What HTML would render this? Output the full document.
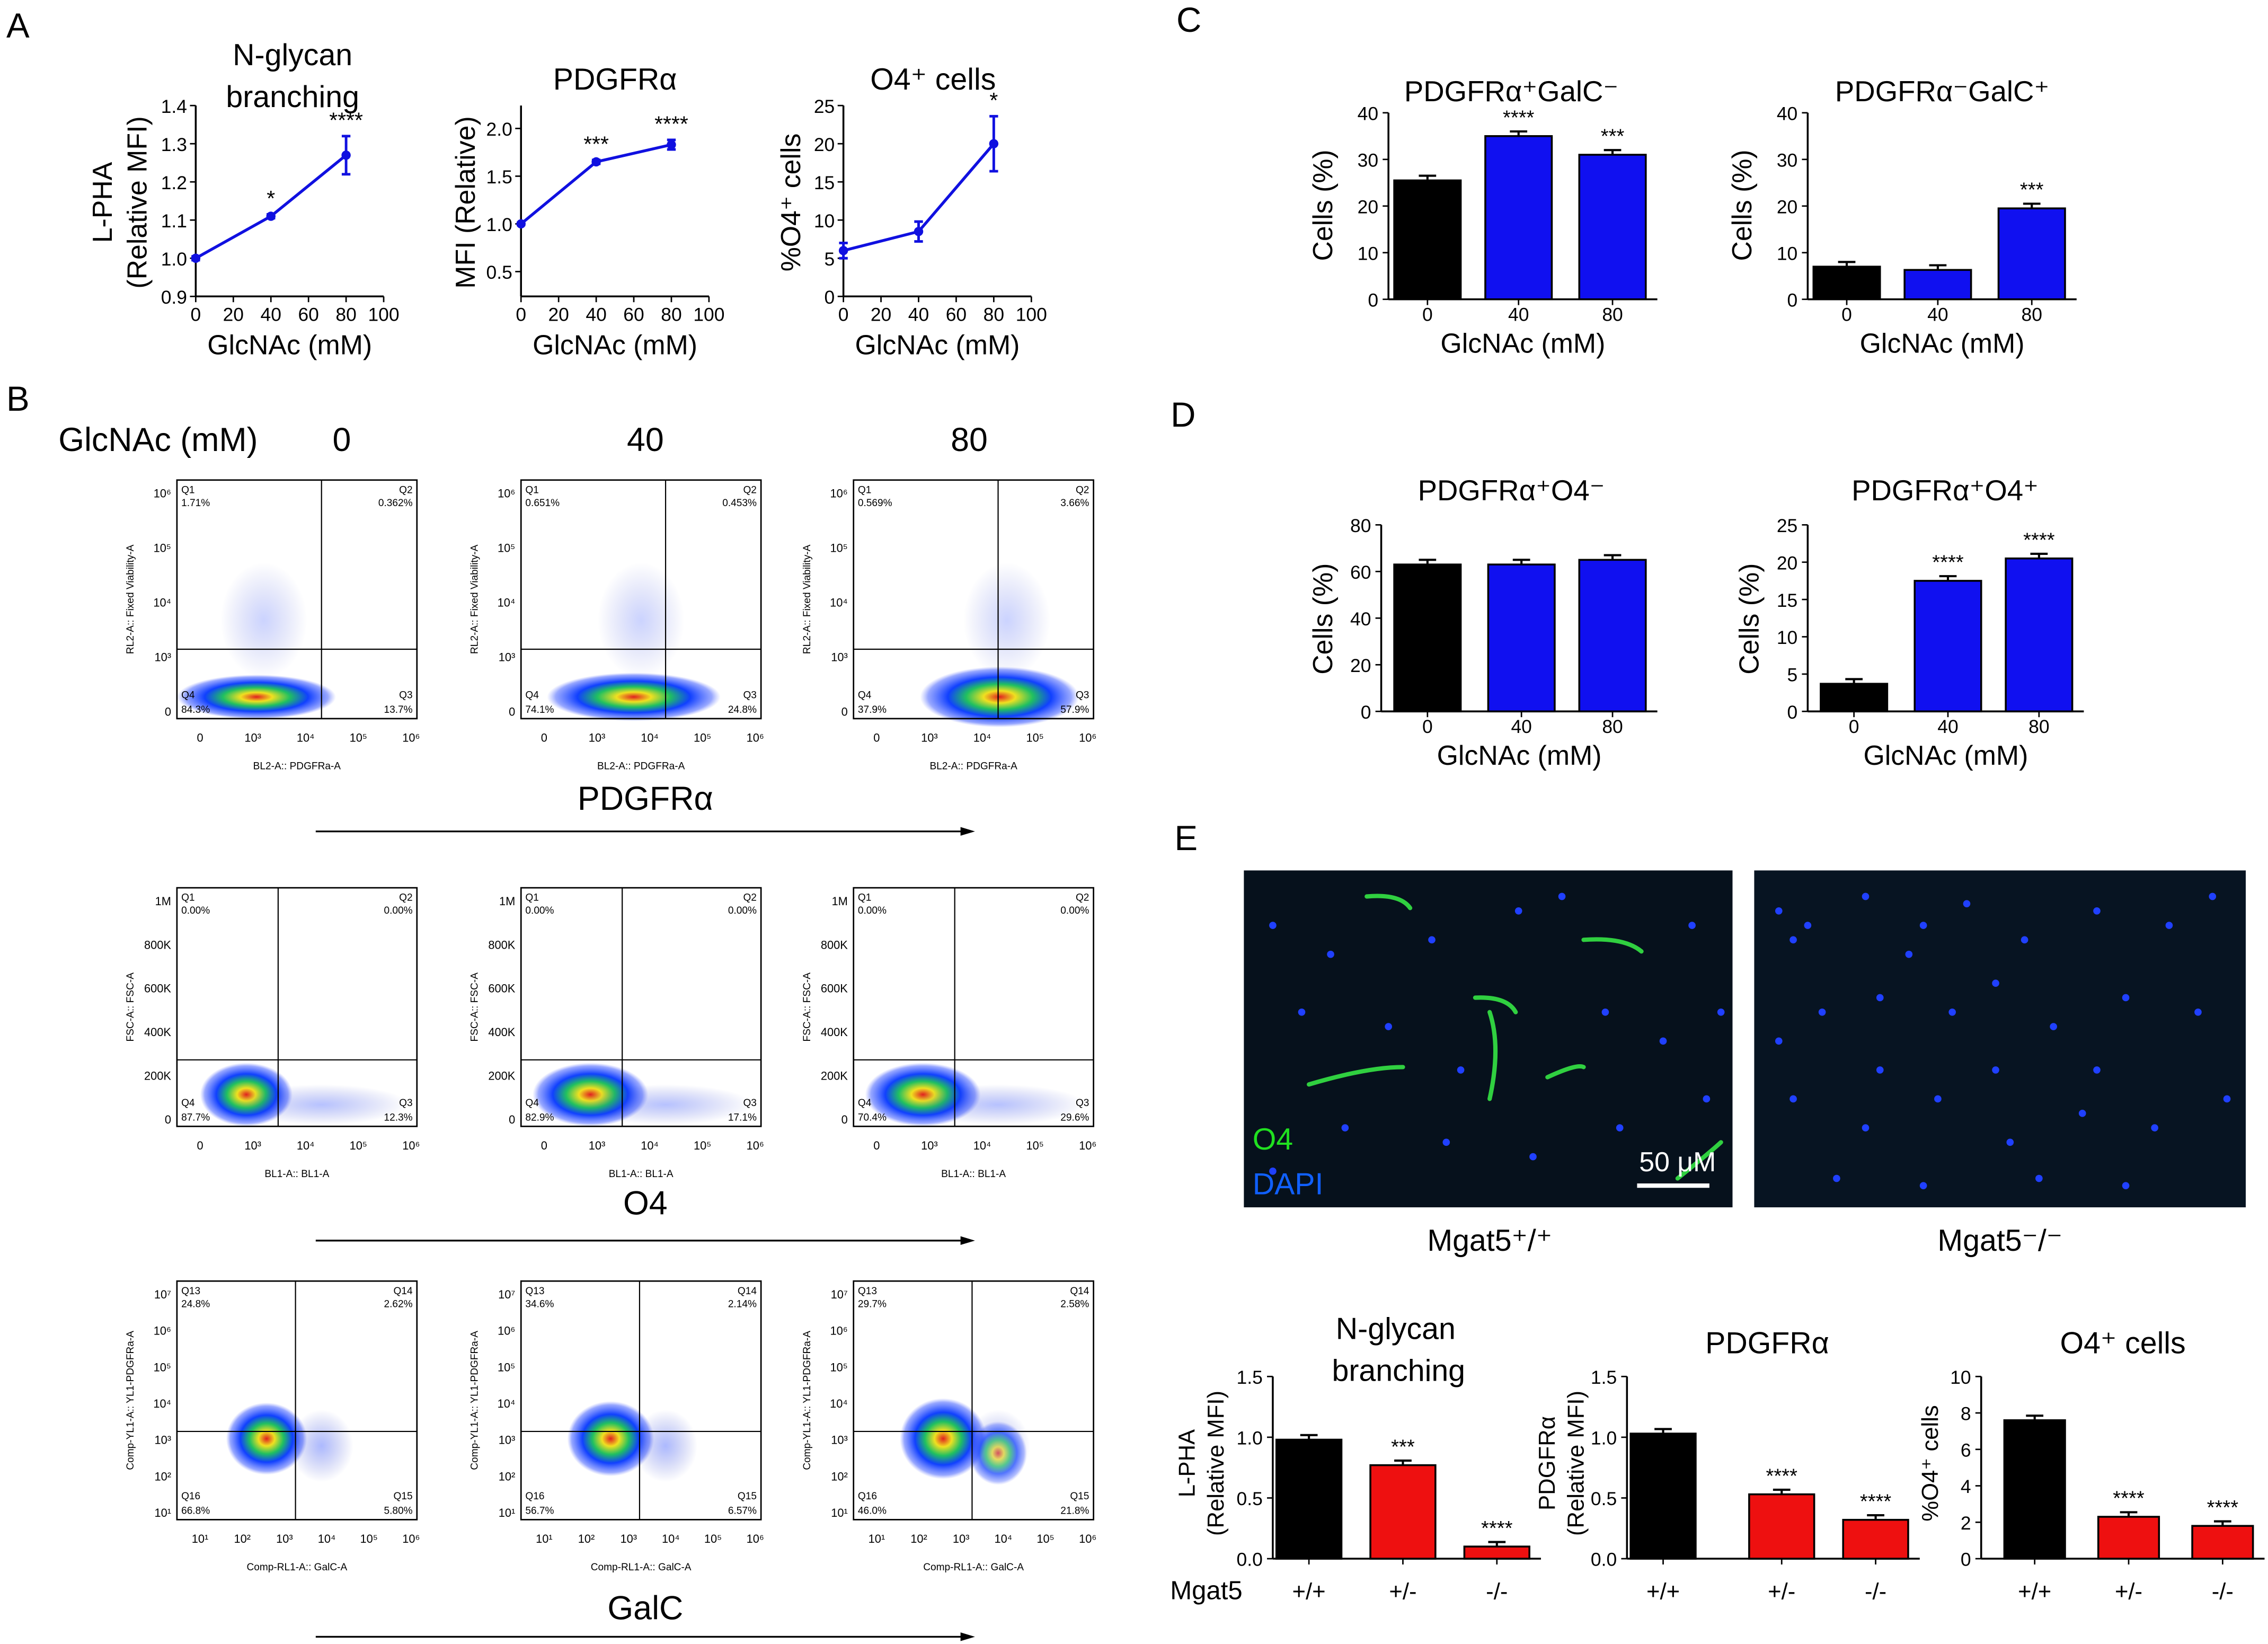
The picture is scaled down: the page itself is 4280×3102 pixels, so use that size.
<!DOCTYPE html>
<html><head><meta charset="utf-8"><style>
html,body{margin:0;padding:0;background:#fff;}
svg{display:block;font-family:"Liberation Sans",Arial,sans-serif;}
</style></head><body>
<svg id="fig" width="4280" height="3102" viewBox="0 0 1568 1137" xmlns="http://www.w3.org/2000/svg">
<defs>
<radialGradient id="blob" cx="50%" cy="50%" r="50%">
<stop offset="0" stop-color="#e02020"/><stop offset="0.2" stop-color="#f0e020"/><stop offset="0.42" stop-color="#20c060"/><stop offset="0.65" stop-color="#1040ff"/><stop offset="0.9" stop-color="#3050ff" stop-opacity="0.5"/><stop offset="1" stop-color="#6070ff" stop-opacity="0"/>
</radialGradient>
<radialGradient id="glow" cx="50%" cy="50%" r="50%"><stop offset="0" stop-color="#3050ff"/><stop offset="1" stop-color="#2030c0" stop-opacity="0"/></radialGradient>
</defs>
<g id="root"></g>
</svg>
<script>
// ---- Panel A data ----
const aX = [0, 40, 80];
const aBranch = [1.0, 1.11, 1.27];
const aBranchErr = [0.005, 0.005, 0.05];
const aPdgfr = [1.0, 1.65, 1.83];
const aPdgfrErr = [0.01, 0.02, 0.05];
const aO4 = [6, 8.5, 20];
const aO4Err = [1, 1.3, 3.6];
const aStars = ["", "*", "****"];
const aStars2 = ["", "***", "****"];
const aStars3 = ["", "", "*"];
// ---- Panel C/D data ----
const cdCats = ["0", "40", "80"];
const cPdgfrPosGalcNeg = [25.5, 35, 31];
const cPdgfrNegGalcPos = [7, 6.3, 19.5];
const dPdgfrPosO4Neg = [63, 63, 65];
const dPdgfrPosO4Pos = [3.7, 17.5, 20.5];
const cStars1 = ["", "****", "***"];
const cStars2 = ["", "", "***"];
const dStars1 = ["", "", ""];
const dStars2 = ["", "****", "****"];
// ---- Panel E data ----
const eCats = ["+/+", "+/-", "-/-"];
const eBranch = [0.98, 0.77, 0.1];
const ePdgfr = [1.03, 0.53, 0.32];
const eO4 = [7.6, 2.3, 1.8];
const eStarsA = ["", "***", "****"];
const eStarsB = ["", "****", "****"];

const NS="http://www.w3.org/2000/svg";
const root=document.getElementById('root');
function el(tag,attrs,parent,text){const e=document.createElementNS(NS,tag);for(const k in attrs)e.setAttribute(k,attrs[k]);if(text!==undefined)e.textContent=text;(parent||root).appendChild(e);return e;}
function txt(x,y,s,size,parent,anchor,rot){const a={x:x,y:y,'font-size':size,'text-anchor':anchor||'middle',fill:'#000'};if(rot)a.transform='rotate(-90 '+x+' '+y+')';return el('text',a,parent,s);}

function lineChart(name,x0,y0,y1,ymin,ymax,ticks,tickFmt,vals,errs,stars,ylab){
  const g=el('g',{});
  
  
  const x1=x0+130;
  const sx=v=>x0+(v/100)*(x1-x0);
  const sy=v=>y0-(v-ymin)/(ymax-ymin)*(y0-y1);
  el('line',{x1:x0,y1:y0,x2:x0,y2:y1,stroke:'#000','stroke-width':1.3},g);
  el('line',{x1:x0,y1:y0,x2:x1,y2:y0,stroke:'#000','stroke-width':1.3},g);
  ticks.forEach(t=>{el('line',{x1:x0-4,y1:sy(t),x2:x0,y2:sy(t),stroke:'#000'},g);txt(x0-6,sy(t)+5,tickFmt(t),13,g,'end');});
  [0,20,40,60,80,100].forEach(t=>{el('line',{x1:sx(t),y1:y0,x2:sx(t),y2:y0+4,stroke:'#000'},g);txt(sx(t),y0+17,String(t),13,g);});
  txt((x0+x1)/2,y0+40,'GlcNAc (mM)',19,g);
  let d='';
  aX.forEach((x,i)=>{d+=(i?'L':'M')+sx(x)+' '+sy(vals[i]);});
  const p=el('path',{d:d,fill:'none',stroke:'#1010e0','stroke-width':2},g);
  
  
  aX.forEach((x,i)=>{
    const cx=sx(x),cy=sy(vals[i]),e=errs[i];
    el('line',{x1:cx,y1:sy(vals[i]-e),x2:cx,y2:sy(vals[i]+e),stroke:'#1010e0','stroke-width':1.8},g);
    el('line',{x1:cx-3,y1:sy(vals[i]-e),x2:cx+3,y2:sy(vals[i]-e),stroke:'#1010e0','stroke-width':1.8},g);
    el('line',{x1:cx-3,y1:sy(vals[i]+e),x2:cx+3,y2:sy(vals[i]+e),stroke:'#1010e0','stroke-width':1.8},g);
    const c=el('circle',{cx:cx,cy:cy,r:3.2,fill:'#1010e0'},g);
    
    
    if(stars[i])txt(cx,sy(vals[i]+e)-6,stars[i],15,g);
  });
  return g;
}

function barChart(name,x0,y0,y1,ymax,ticks,cats,vals,colors,stars,xcenters,bw,xlabel){
  const g=el('g',{});
  
  
  const sy=v=>y0-v/ymax*(y0-y1);
  const xEnd=xcenters[xcenters.length-1]+bw/2+8;
  el('line',{x1:x0,y1:y0,x2:x0,y2:y1,stroke:'#000','stroke-width':1.3},g);
  el('line',{x1:x0,y1:y0,x2:xEnd,y2:y0,stroke:'#000','stroke-width':1.3},g);
  ticks.forEach(t=>{el('line',{x1:x0-4,y1:sy(t),x2:x0,y2:sy(t),stroke:'#000'},g);txt(x0-7,sy(t)+5,t.label,13,g,'end');});
  cats.forEach((c,i)=>{
    const v=vals[i],cx=xcenters[i];
    const r=el('rect',{x:cx-bw/2,y:sy(v),width:bw,height:y0-sy(v),fill:colors[i],stroke:'#000','stroke-width':1.3},g);
    
    
    const e=ymax*0.025;
    el('line',{x1:cx,y1:sy(v),x2:cx,y2:sy(v+e),stroke:'#000','stroke-width':1.5},g);
    el('line',{x1:cx-6,y1:sy(v+e),x2:cx+6,y2:sy(v+e),stroke:'#000','stroke-width':1.5},g);
    if(stars[i])txt(cx,sy(v+e)-5,stars[i],14,g);
    el('line',{x1:cx,y1:y0,x2:cx,y2:y0+4,stroke:'#000'},g);
    if(xlabel)txt(cx,y0+15,c,13,g);
  });
  if(xlabel)txt((x0+xEnd)/2,y0+37,xlabel,19,g);
  return g;
}
function tk(vals,fmt){return vals.map(v=>{const o=new Number(v);o.label=fmt(v);return o;});}

// ---- Panel A ----
txt(12,26,'A',24,null);
lineChart('chart-a-branching',135,205,73,0.9,1.4,[0.9,1.0,1.1,1.2,1.3,1.4],t=>t.toFixed(1),aBranch,aBranchErr,aStars);
txt(202,45,'N-glycan',21);txt(202,74,'branching',21);
txt(77,140,'L-PHA',19,null,'middle',true);txt(101,140,'(Relative MFI)',19,null,'middle',true);
lineChart('chart-a-pdgfra',360,205,73,0.24,2.24,[0.5,1.0,1.5,2.0],t=>t.toFixed(1),aPdgfr,aPdgfrErr,aStars2);
txt(425,62,'PDGFRα',21);
txt(328,140,'MFI (Relative)',19,null,'middle',true);
lineChart('chart-a-o4',583,205,73,0,25,[0,5,10,15,20,25],t=>String(t),aO4,aO4Err,aStars3);
txt(645,62,'O4⁺ cells',21);
txt(553,140,'%O4⁺ cells',19,null,'middle',true);

// ---- Panel C ----
txt(822,22,'C',24);
barChart('chart-c-pdgfra-pos-galc-neg',960,207,78,40,tk([0,10,20,30,40],String),cdCats,cPdgfrPosGalcNeg,['#000','#1010f0','#1010f0'],cStars1,[987,1050,1115],46,'GlcNAc (mM)');
txt(1045,70,'PDGFRα⁺GalC⁻',20);txt(921,142,'Cells (%)',19,null,'middle',true);
barChart('chart-c-pdgfra-neg-galc-pos',1250,207,78,40,tk([0,10,20,30,40],String),cdCats,cPdgfrNegGalcPos,['#000','#1010f0','#1010f0'],cStars2,[1277,1340,1405],46,'GlcNAc (mM)');
txt(1343,70,'PDGFRα⁻GalC⁺',20);txt(1211,142,'Cells (%)',19,null,'middle',true);
// ---- Panel D ----
txt(818,295,'D',24);
barChart('chart-d-pdgfra-pos-o4-neg',955,492,363,80,tk([0,20,40,60,80],String),cdCats,dPdgfrPosO4Neg,['#000','#1010f0','#1010f0'],dStars1,[987,1052,1115],46,'GlcNAc (mM)');
txt(1045,346,'PDGFRα⁺O4⁻',20);txt(921,428,'Cells (%)',19,null,'middle',true);
barChart('chart-d-pdgfra-pos-o4-pos',1250,492,363,25,tk([0,5,10,15,20,25],String),cdCats,dPdgfrPosO4Pos,['#000','#1010f0','#1010f0'],dStars2,[1282,1347,1410],46,'GlcNAc (mM)');
txt(1345,346,'PDGFRα⁺O4⁺',20);txt(1216,428,'Cells (%)',19,null,'middle',true);

// ---- Panel E ----
txt(820,588,'E',24);
const img1=el('g',{});


el('rect',{x:860,y:602,width:338,height:233,fill:'#06111c'},img1);
[[945,620,975,628],[1095,650,1135,658],[1020,690,1048,700],[905,750,970,738],[1070,745,1095,738],[1160,815,1190,790],[1030,700,1030,760]].forEach(s=>el('path',{d:'M'+s[0]+' '+s[1]+' Q'+((s[0]+s[2])/2+8)+' '+((s[1]+s[3])/2-6)+' '+s[2]+' '+s[3],stroke:'#30d040','stroke-width':3,fill:'none','stroke-linecap':'round'},img1));
const dotsA=[[880,640],[920,660],[990,650],[1050,630],[1170,640],[900,700],[960,710],[1110,700],[1150,720],[1180,760],[930,780],[1000,790],[1060,800],[1120,780],[1080,620],[1010,740],[880,810],[1190,700]];
dotsA.forEach(p=>el('circle',{cx:p[0],cy:p[1],r:2.5,fill:'#2040ff'},img1));
txt(866,795,'O4',21,img1,'start').setAttribute('fill','#20e020');
txt(866,826,'DAPI',21,img1,'start').setAttribute('fill','#1060ff');
txt(1160,810,'50 μM',19,img1).setAttribute('fill','#fff');
el('line',{x1:1132,y1:820,x2:1182,y2:820,stroke:'#fff','stroke-width':3},img1);
const img2=el('g',{});


el('rect',{x:1213,y:602,width:340,height:233,fill:'#071422'},img2);
const dotsB=[[1230,630],[1240,650],[1250,640],[1290,620],[1330,640],[1360,625],[1400,650],[1450,630],[1500,640],[1530,620],[1260,700],[1300,690],[1350,700],[1380,680],[1420,710],[1470,690],[1520,700],[1240,760],[1290,780],[1340,760],[1390,790],[1440,770],[1490,780],[1540,760],[1270,815],[1330,820],[1410,815],[1470,820],[1320,660],[1450,740],[1380,740],[1300,740],[1230,720]];
dotsB.forEach(p=>el('circle',{cx:p[0],cy:p[1],r:2.5,fill:'#2040ff'},img2));
txt(1030,865,'Mgat5⁺/⁺',21);txt(1383,865,'Mgat5⁻/⁻',21);

barChart('chart-e-branching',880,1078,952,1.5,tk([0,0.5,1.0,1.5],v=>v.toFixed(1)),eCats,eBranch,['#000','#ee1010','#ee1010'],eStarsA,[905,970,1035],45,null);
txt(965,926,'N-glycan',21);txt(967,955,'branching',21);
txt(826,1012,'L-PHA',16,null,'middle',true);txt(846,1012,'(Relative MFI)',16,null,'middle',true);
barChart('chart-e-pdgfra',1125,1078,952,1.5,tk([0,0.5,1.0,1.5],v=>v.toFixed(1)),eCats,ePdgfr,['#000','#ee1010','#ee1010'],eStarsB,[1150,1232,1297],45,null);
txt(1222,936,'PDGFRα',21);
txt(1075,1012,'PDGFRα',16,null,'middle',true);txt(1095,1012,'(Relative MFI)',16,null,'middle',true);
barChart('chart-e-o4',1370,1078,952,10,tk([0,2,4,6,8,10],String),eCats,eO4,['#000','#ee1010','#ee1010'],eStarsB,[1407,1472,1537],42,null);
txt(1468,936,'O4⁺ cells',21);txt(1340,1012,'%O4⁺ cells',16,null,'middle',true);
txt(809,1106,'Mgat5',18,null,'start');
[[905,970,1035],[1150,1232,1297],[1407,1472,1537]].forEach(xs=>xs.forEach((x,i)=>txt(x,1106,eCats[i],16)));

// ---- Panel B (flow plots) ----
txt(12,284,'B',24);
txt(40,312,'GlcNAc (mM)',23,null,'start');txt(236,312,'0',23);txt(446,312,'40',23);txt(670,312,'80',23);
const cols=[122,360,590];
const rows=[
 {y:332,qy:449,qx:100,blob:[[55,0.62,55,22],[70,0.62,60,24],[85,0.55,55,30]],ql:['Q1','Q2','Q4','Q3'],
  pct:[['1.71%','0.362%','84.3%','13.7%'],['0.651%','0.453%','74.1%','24.8%'],['0.569%','3.66%','37.9%','57.9%']],xl:'BL2-A:: PDGFRa-A',yl:'RL2-A:: Fixed Viability-A',
  yt:['10⁶','10⁵','10⁴','10³','0'],lab:'PDGFRα',ly:560,ay:575},
 {y:614,qy:733,qx:70,blob:[[45,0.62,32,22],[45,0.62,40,22],[45,0.62,40,22]],ql:['Q1','Q2','Q4','Q3'],
  pct:[['0.00%','0.00%','87.7%','12.3%'],['0.00%','0.00%','82.9%','17.1%'],['0.00%','0.00%','70.4%','29.6%']],xl:'BL1-A:: BL1-A',yl:'FSC-A:: FSC-A',
  yt:['1M','800K','600K','400K','200K','0'],lab:'O4',ly:840,ay:858},
 {y:886,qy:990,qx:82,blob:[[60,0.6,28,25],[60,0.6,30,26],[60,0.6,30,28]],ql:['Q13','Q14','Q16','Q15'],
  pct:[['24.8%','2.62%','66.8%','5.80%'],['34.6%','2.14%','56.7%','6.57%'],['29.7%','2.58%','46.0%','21.8%']],xl:'Comp-RL1-A:: GalC-A',yl:'Comp-YL1-A:: YL1-PDGFRa-A',
  yt:['10⁷','10⁶','10⁵','10⁴','10³','10²','10¹'],lab:'GalC',ly:1120,ay:1132}
];
const W=166,H=165;
rows.forEach((r,ri)=>{
  cols.forEach((x,ci)=>{
    const g=el('g',{});
    
    
    const b=r.blob[ci];
    const bx=x+b[0]+(ri===0?ci*8:0), by=r.y+H*b[1]+(ri===1?12:0)+(ri===2?-10:0)+(ri===0?0:0);
    if(ri===0){el('ellipse',{cx:bx,cy:r.qy+33,rx:b[2],ry:b[3]*0.7,fill:'url(#blob)'},g);
      el('ellipse',{cx:bx+5,cy:r.qy-20,rx:30,ry:40,fill:'url(#glow)',opacity:0.25},g);}
    else if(ri===1){el('ellipse',{cx:x+48,cy:r.y+143,rx:b[2],ry:b[3],fill:'url(#blob)'},g);
      el('ellipse',{cx:x+100,cy:r.y+150,rx:60,ry:14,fill:'url(#glow)',opacity:0.35},g);}
    else {el('ellipse',{cx:x+62,cy:r.qy+5,rx:b[2],ry:b[3],fill:'url(#blob)'},g);
      el('ellipse',{cx:x+100,cy:r.qy+10,rx:22,ry:25,fill:'url(#glow)',opacity:0.4},g);
      if(ci===2)el('ellipse',{cx:x+100,cy:r.qy+15,rx:20,ry:22,fill:'url(#blob)',opacity:0.7},g);}
    el('rect',{x:x,y:r.y,width:W,height:H,fill:'none',stroke:'#000','stroke-width':1},g);
    el('line',{x1:x+r.qx,y1:r.y,x2:x+r.qx,y2:r.y+H,stroke:'#000','stroke-width':0.8},g);
    el('line',{x1:x,y1:r.qy,x2:x+W,y2:r.qy,stroke:'#000','stroke-width':0.8},g);
    const p=r.pct[ci];
    txt(x+3,r.y+9,r.ql[0],7,g,'start');txt(x+3,r.y+18,p[0],7,g,'start');
    txt(x+W-3,r.y+9,r.ql[1],7,g,'end');txt(x+W-3,r.y+18,p[1],7,g,'end');
    txt(x+3,r.y+H-14,r.ql[2],7,g,'start');txt(x+3,r.y+H-4,p[2],7,g,'start');
    txt(x+W-3,r.y+H-14,r.ql[3],7,g,'end');txt(x+W-3,r.y+H-4,p[3],7,g,'end');
    r.yt.forEach((t,i)=>txt(x-4,r.y+12+i*(H-14)/(r.yt.length-1),t,8,g,'end'));
    const xt=ri===2?['10¹','10²','10³','10⁴','10⁵','10⁶']:['0','10³','10⁴','10⁵','10⁶'];
    xt.forEach((t,i)=>txt(x+16+i*(W-20)/(xt.length-1),r.y+H+16,t,8,g));
    txt(x+W/2,r.y+H+35,r.xl,7,g);
    txt(x-30,r.y+H/2,r.yl,7,g,'middle',true);
  });
  txt(446,r.ly,r.lab,23);
  const ar=el('g',{});
  
  
  el('line',{x1:218,y1:r.ay,x2:668,y2:r.ay,stroke:'#000','stroke-width':1.2},ar);
  el('path',{d:'M674 '+r.ay+' L664 '+(r.ay-3)+' L664 '+(r.ay+3)+'Z',fill:'#000'},ar);
});
</script>
</body></html>
